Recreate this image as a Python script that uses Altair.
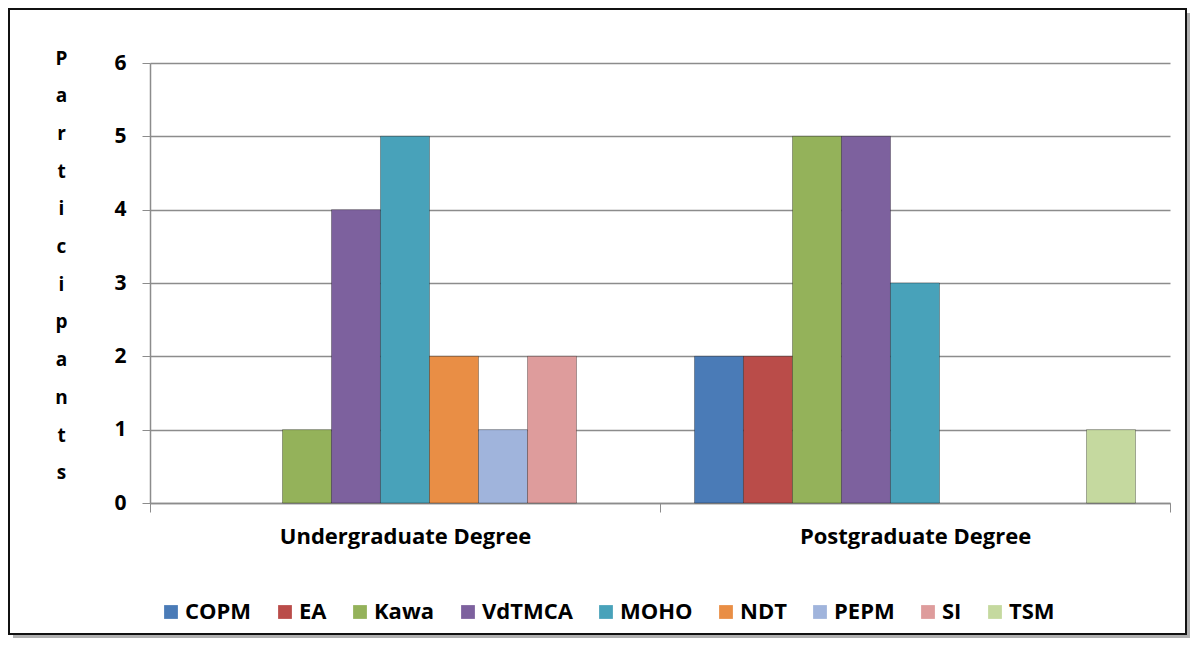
import altair as alt
import pandas as pd

categories = ["Undergraduate Degree", "Postgraduate Degree"]
series = ["COPM", "EA", "Kawa", "VdTMCA", "MOHO", "NDT", "PEPM", "SI", "TSM"]
undergrad = [0, 0, 1, 4, 5, 2, 1, 2, 0]
postgrad = [2, 2, 5, 5, 3, 0, 0, 0, 1]
colors = ["#4A7BB7", "#BA4C49", "#94B25A", "#7D619E", "#48A2BA",
          "#E98E45", "#A0B4DC", "#DE9C9C", "#C5D99F"]
y_ticks = [0, 1, 2, 3, 4, 5, 6]
y_title = list("Participants")

rows = []
for cat, vals in zip(categories, [undergrad, postgrad]):
    for s, v in zip(series, vals):
        rows.append({"degree": cat, "method": s, "value": v})
df = pd.DataFrame(rows)

FONT = "Open Sans"
W, H = 1020, 440

one = pd.DataFrame({"a": [0]})
shadow_r = alt.Chart(one).mark_rect(fill="#b0b0b0").encode(
    x=alt.value(1037), x2=alt.value(1040), y=alt.value(-50), y2=alt.value(575)
)
shadow_b = alt.Chart(one).mark_rect(fill="#b0b0b0").encode(
    x=alt.value(-137), x2=alt.value(1040), y=alt.value(572), y2=alt.value(575)
)
frame = alt.Chart(one).mark_rect(fill=None, stroke="#111111", strokeWidth=2).encode(
    x=alt.value(-141), x2=alt.value(1036), y=alt.value(-54), y2=alt.value(571)
)

bars = alt.Chart(df).transform_filter("datum.value > 0").mark_bar(
    stroke="#000000", strokeOpacity=0.3, strokeWidth=1
).encode(
    x=alt.X("degree:N", sort=categories,
            scale=alt.Scale(domain=categories, paddingInner=0, paddingOuter=0),
            axis=alt.Axis(title=None, labelAngle=0, tickBand="extent", tickSize=9,
                          tickColor="#8c8c8c", domainColor="#8c8c8c", domainWidth=1.5,
                          labelFont=FONT, labelFontSize=22, labelFontWeight="bold",
                          labelColor="black", labelPadding=14, labelLimit=0)),
    xOffset=alt.XOffset("method:N", sort=series,
                        scale=alt.Scale(domain=series, paddingInner=0, paddingOuter=0.704)),
    y=alt.Y("value:Q", scale=alt.Scale(domain=[0, 6], nice=False),
            axis=alt.Axis(values=y_ticks, format="d", grid=True, gridColor="#8c8c8c",
                          gridWidth=1.5, domainColor="#8c8c8c", domainWidth=1.5,
                          tickColor="#8c8c8c", tickSize=8, labelPadding=16,
                          labelFont=FONT, labelFontSize=21, labelFontWeight="bold",
                          labelColor="black",
                          title=y_title, titleAngle=0, titleAlign="center",
                          titleBaseline="alphabetic", titleX=-89, titleY=1,
                          titleLineHeight=37.7, titleFont=FONT, titleFontSize=19,
                          titleFontWeight="bold", titleColor="black")),
    color=alt.Color("method:N", sort=series,
                    scale=alt.Scale(domain=series, range=colors),
                    legend=alt.Legend(title=None, orient="none", legendX=10, legendY=538,
                                      direction="horizontal", columns=9,
                                      symbolType="square", symbolSize=190,
                                      symbolStrokeWidth=0, symbolOpacity=1,
                                      labelFont=FONT, labelFontSize=22,
                                      labelFontWeight="bold", labelColor="black",
                                      labelOffset=3, columnPadding=22, labelLimit=0)),
)

chart = alt.layer(shadow_r, shadow_b, frame, bars).properties(
    width=W, height=H, padding=0, background="white"
).configure_view(strokeWidth=0)

chart.save("out.html", embed_options={"renderer": "svg", "actions": False})
